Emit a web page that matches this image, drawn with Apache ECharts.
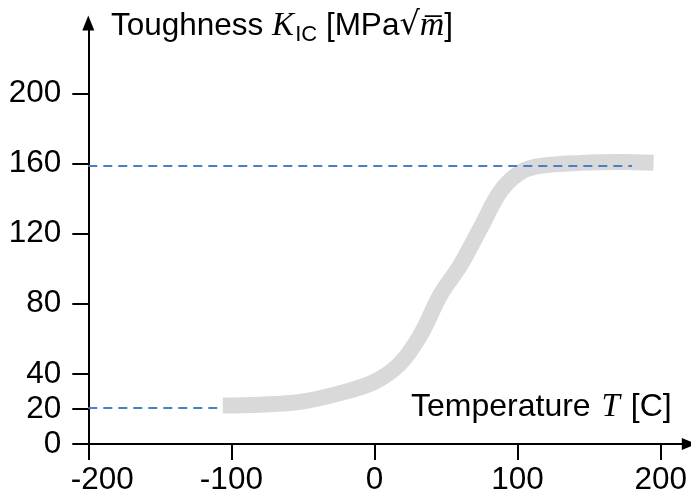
<!DOCTYPE html>
<html><head><meta charset="utf-8">
<script src="https://cdn.jsdelivr.net/npm/echarts@6/dist/echarts.min.js"></script>
<style>html,body{margin:0;padding:0;background:#fff}#c{width:691px;height:496px}</style>
</head><body><div id="c"></div>
<script>
// Ductile-to-brittle transition curve
const temperature = [-106, -80, -52, -24, 0, 18, 32, 46, 60, 74, 88, 102, 116, 144, 172, 195];
const toughness   = [21.9, 22.4, 24, 29, 35.5, 46, 62, 85, 102, 123, 144, 155, 158.6, 160.3, 160.8, 160.4];
// Guide lines (lower and upper shelf)
const lowerShelfX = [-200, -106];
const lowerShelfY = [20.5, 20.5];
const upperShelfX = [-200, 180];
const upperShelfY = [158.5, 158.5];
// Tick labels
const xTicks = [-200, -100, 0, 100, 200];
const yTicks = [0, 20, 40, 80, 120, 160, 200];

const SANS = '"Liberation Sans", Arial, sans-serif';
const SERIF = '"Liberation Serif", "Times New Roman", serif';
const FS = 31.5;
const TFS = 31.5;

function pairs(xs, ys) { return xs.map((x, i) => [x, ys[i]]); }

const chart = echarts.init(document.getElementById('c'), null, { renderer: 'canvas' });
chart.setOption({
  animation: false,
  backgroundColor: '#fff',
  grid: { left: 88.3, right: 1.7, top: 23.1, bottom: 51.7, containLabel: false },
  xAxis: {
    type: 'value', min: -200, max: 220,
    splitLine: { show: false },
    axisLine: { onZero: false, lineStyle: { color: '#000', width: 2 }, symbol: ['none', 'triangle'], symbolSize: [12, 15] },
    axisTick: { customValues: xTicks, length: 16, lineStyle: { color: '#000', width: 2 } },
    axisLabel: {
      customValues: xTicks, margin: 20, color: '#000', fontSize: FS, fontFamily: SANS,
      formatter: v => v === -200 ? '{sh|' + v + '}' : String(v),
      rich: { sh: { padding: [0, 0, 0, 28], fontSize: FS, fontFamily: SANS, color: '#000' } }
    }
  },
  yAxis: {
    type: 'value', min: 0, max: 240,
    splitLine: { show: false },
    axisLine: { onZero: false, lineStyle: { color: '#000', width: 2 }, symbol: ['none', 'triangle'], symbolSize: [12, 15] },
    axisTick: { customValues: yTicks, length: 16, lineStyle: { color: '#000', width: 2 } },
    axisLabel: { customValues: yTicks, margin: 27, color: '#000', fontSize: FS, fontFamily: SANS }
  },
  series: [
    {
      type: 'line', data: pairs(temperature, toughness), smooth: 0.35, showSymbol: false,
      lineStyle: { color: '#d9d9d9', width: 16, cap: 'butt', join: 'round' }, z: 2
    },
    {
      type: 'line', data: pairs(lowerShelfX, lowerShelfY), showSymbol: false,
      lineStyle: { color: '#4a7ec8', width: 2, type: [9, 6] }, z: 3
    },
    {
      type: 'line', data: pairs(upperShelfX, upperShelfY), showSymbol: false,
      lineStyle: { color: '#4a7ec8', width: 2, type: [9, 6] }, z: 3
    }
  ],
  graphic: [
    {
      type: 'text', left: 111, top: 9,
      style: {
        text: '{a|Toughness }{k|K}{s|IC}{a| [MPa}{r|√}{m|m\u0305}{a|]}',
        rich: {
          a: { fontSize: TFS, fontFamily: SANS, color: '#000' },
          k: { fontSize: 33, fontFamily: SERIF, fontStyle: 'italic', color: '#000' },
          s: { fontSize: 22, fontFamily: SANS, color: '#000', padding: [18, 0, 0, 1] },
          r: { fontSize: 32, fontFamily: '"DejaVu Sans", sans-serif', color: '#000' },
          m: { fontSize: 34, fontFamily: SERIF, fontStyle: 'italic', color: '#000' }
        }
      }
    },
    {
      type: 'text', left: 411, top: 391,
      style: {
        text: '{a|Temperature }{t|T}{a| [C]}',
        rich: {
          a: { fontSize: 32, fontFamily: SANS, color: '#000' },
          t: { fontSize: 33, fontFamily: SERIF, fontStyle: 'italic', color: '#000', padding: [0, 2, 0, 2] }
        }
      }
    }
  ]
});
</script>
</body></html>
